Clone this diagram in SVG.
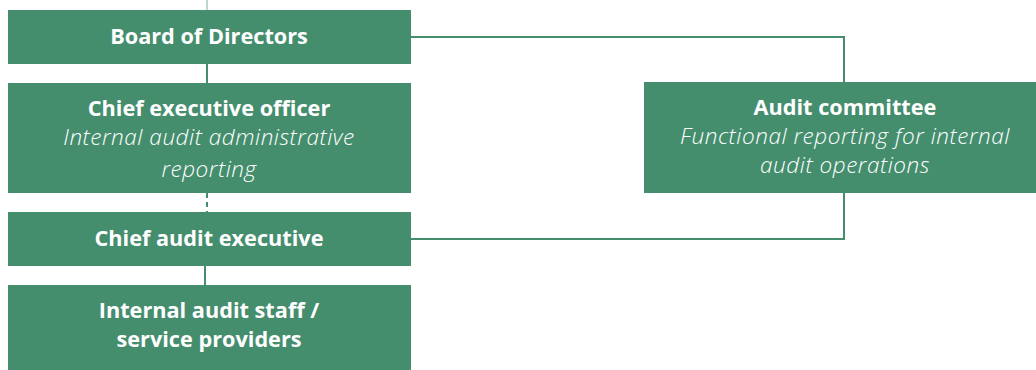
<svg xmlns="http://www.w3.org/2000/svg" width="1036" height="370" viewBox="0 0 1036 370">
<style>
.box{fill:#448E6E}
.t{font-family:"Open Sans","Liberation Sans",sans-serif;fill:#fff;text-anchor:middle}
.b{font-weight:700;font-size:21.7px}
.i{font-style:italic;font-weight:300;font-size:22.5px;letter-spacing:0.55px}
.ln{stroke:#448E6E;stroke-width:2;fill:none}
</style>
<rect width="1036" height="370" fill="#fff"/>
<g id="connectors">
<path class="ln" d="M207 0V10" stroke-opacity="0.35" stroke-width="1"/>
<path class="ln" d="M207 64V83"/>
<path class="ln" d="M207 193V212" stroke-dasharray="5 4"/>
<path class="ln" d="M205 266V285"/>
<path class="ln" d="M411 37H844V82"/>
<path class="ln" d="M844 193V239H411"/>
</g>
<g id="board"><rect class="box" x="8" y="10" width="403" height="54"/><text class="t b" x="209" y="44">Board of Directors</text></g>
<g id="ceo"><rect class="box" x="8" y="83" width="403" height="110"/><text class="t b" x="209" y="116">Chief executive officer</text><text class="t i" x="209" y="145">Internal audit administrative</text><text class="t i" x="209" y="177">reporting</text></g>
<g id="cae"><rect class="box" x="8" y="212" width="403" height="54"/><text class="t b" x="209" y="246">Chief audit executive</text></g>
<g id="staff"><rect class="box" x="8" y="285" width="403" height="85"/><text class="t b" x="209" y="318">Internal audit staff /</text><text class="t b" x="209" y="347">service providers</text></g>
<g id="committee"><rect class="box" x="644" y="82" width="392" height="111"/><text class="t b" x="845" y="115">Audit committee</text><text class="t i" x="845" y="144">Functional reporting for internal</text><text class="t i" x="845" y="173">audit operations</text></g>
</svg>
